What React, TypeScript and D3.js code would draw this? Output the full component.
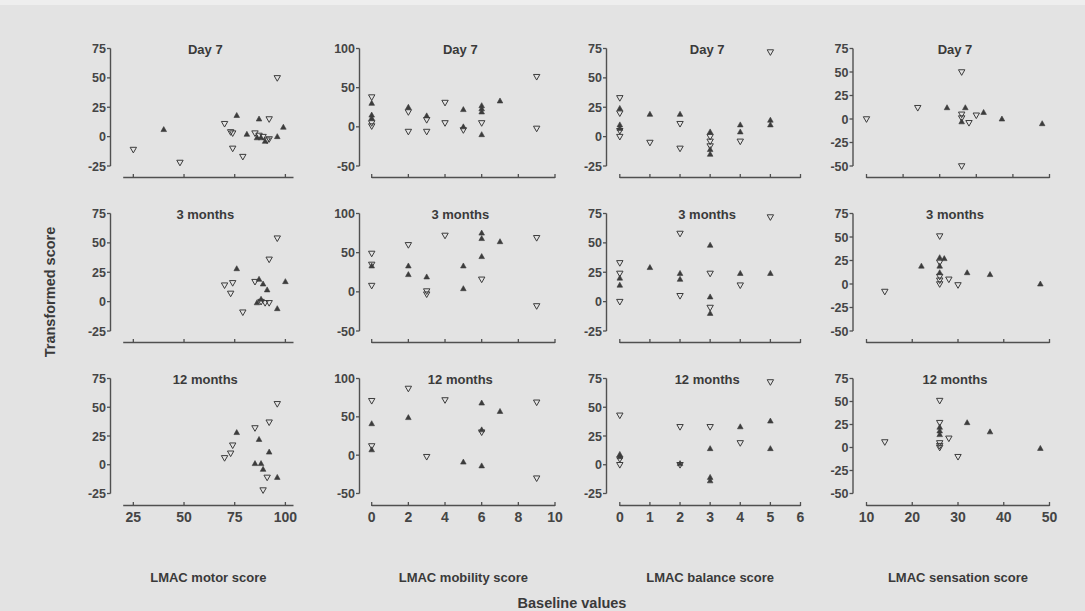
import React from "react";
import * as d3 from "d3";

// ---- Data: [baseline value, transformed score] ----
// filled up-triangles (▲) and open down-triangles (▽)
const motorDay7Up = [[40,6],[76,18],[81,2],[87,15],[86,-1],[88,-1],[90,-4],[96,0],[99,8]];
const motorDay7Down = [[25,-11],[48,-22],[70,11],[73,4],[74,3],[74,-10],[79,-17],[85,3],[87,1],[89,0],[91,-3],[92,-2],[92,15],[96,50]];
const motor3mUp = [[76,28],[87,19],[89,15],[91,10],[86,-1],[88,2],[96,-6],[100,17]];
const motor3mDown = [[70,14],[74,16],[73,7],[79,-9],[85,17],[88,0],[90,-1],[92,-1],[92,36],[96,54]];
const motor12mUp = [[76,28],[87,22],[85,1],[88,1],[89,-4],[92,11],[96,-11]];
const motor12mDown = [[70,6],[73,10],[74,17],[85,32],[89,-22],[91,-11],[92,37],[96,53]];

const mobilityDay7Up = [[0,30],[0,15],[0,11],[2,25],[3,14],[5,22],[5,0],[6,27],[6,23],[6,19],[6,-10],[7,33]];
const mobilityDay7Down = [[0,38],[0,5],[0,1],[2,19],[2,-6],[3,9],[3,-6],[4,31],[4,5],[5,-4],[6,5],[9,64],[9,-2]];
const mobility3mUp = [[0,33],[2,33],[2,22],[3,19],[5,33],[5,4],[6,75],[6,68],[6,45],[7,64]];
const mobility3mDown = [[0,49],[0,35],[0,8],[2,60],[3,1],[3,-3],[4,72],[6,16],[9,69],[9,-18]];
const mobility12mUp = [[0,41],[0,7],[2,49],[5,-9],[6,68],[6,33],[6,-14],[7,57]];
const mobility12mDown = [[0,71],[0,12],[2,87],[3,-2],[4,72],[6,30],[9,69],[9,-30]];

const balanceDay7Up = [[0,24],[0,10],[0,7],[1,19],[2,19],[3,4],[3,-11],[3,-15],[4,10],[4,4],[5,14],[5,10]];
const balanceDay7Down = [[0,33],[0,20],[0,5],[0,0],[1,-5],[2,11],[2,-10],[3,0],[3,-4],[3,-8],[4,-4],[5,72]];
const balance3mUp = [[0,20],[0,14],[1,29],[2,24],[2,19],[3,48],[3,4],[3,-10],[4,24],[5,24]];
const balance3mDown = [[0,33],[0,24],[0,0],[2,58],[2,5],[3,24],[3,-5],[4,14],[5,72]];
const balance12mUp = [[0,9],[0,7],[2,1],[3,14],[3,-11],[3,-14],[4,33],[5,38],[5,14]];
const balance12mDown = [[0,43],[0,5],[0,0],[2,33],[2,0],[3,33],[4,19],[5,72]];

const sensationDay7Up = [[22,12],[27,12],[26,-3],[32,7],[37,0],[48,-5]];
const sensationDay7Down = [[0,0],[14,12],[26,50],[26,5],[26,1],[26,-50],[28,-4],[30,4]];
const sensation3mUp = [[22,19],[26,28],[26,19],[26,12],[27,27],[32,12],[37,10],[48,0]];
const sensation3mDown = [[14,-8],[26,51],[26,23],[26,8],[26,4],[26,0],[28,5],[30,-1]];
const sensation12mUp = [[26,22],[26,18],[26,14],[32,27],[37,17],[48,-1]];
const sensation12mDown = [[14,6],[26,51],[26,27],[26,5],[26,2],[26,0],[28,10],[30,-10]];

const rowTitles = ["Day 7", "3 months", "12 months"];
const xAxisTitles = ["LMAC motor score", "LMAC mobility score", "LMAC balance score", "LMAC sensation score"];
const motorTicks = [25, 50, 75, 100];
const mobilityTicks = [0, 2, 4, 6, 8, 10];
const balanceTicks = [0, 1, 2, 3, 4, 5, 6];
const sensationTicks = [10, 20, 30, 40, 50];
const sensationDay7Ticks = [0, 10, 20, 30, 40, 50];
const yTicksA = [75, 50, 25, 0, -25];
const yTicksMob = [100, 50, 0, -50];
const yTicksSens = [75, 50, 25, 0, -25, -50];

const dataUp = [
  [motorDay7Up, mobilityDay7Up, balanceDay7Up, sensationDay7Up],
  [motor3mUp, mobility3mUp, balance3mUp, sensation3mUp],
  [motor12mUp, mobility12mUp, balance12mUp, sensation12mUp],
];
const dataDown = [
  [motorDay7Down, mobilityDay7Down, balanceDay7Down, sensationDay7Down],
  [motor3mDown, mobility3mDown, balance3mDown, sensation3mDown],
  [motor12mDown, mobility12mDown, balance12mDown, sensation12mDown],
];

// ---- Layout ----
const W = 1085, H = 611;
const cols = [
  { yAxisX: 110.5, xRange: [123.2, 293.5], xDomain: [20, 104], xTicks: motorTicks, yDomain: [-25, 75], yTicks: yTicksA },
  { yAxisX: 359.5, xRange: [371.7, 555], xDomain: [0, 10], xTicks: mobilityTicks, yDomain: [-50, 100], yTicks: yTicksMob },
  { yAxisX: 606.5, xRange: [619.8, 800.5], xDomain: [0, 6], xTicks: balanceTicks, yDomain: [-25, 75], yTicks: yTicksA },
  { yAxisX: 853, xRange: [866.5, 1049.5], xDomain: [10, 50], xTicks: sensationTicks, yDomain: [-50, 75], yTicks: yTicksSens },
];
const rows = [
  { top: 48.5, bottom: 166, axisY: 177.5 },
  { top: 213.5, bottom: 331, axisY: 342.5 },
  { top: 378.5, bottom: 493.5, axisY: 505.5 },
];

const INK = "#3c3c3c";
const FONT = "'Liberation Sans', Arial, Helvetica, sans-serif";

function upTri(x: number, y: number) {
  const w = 5.6, h = 5;
  return `M${x},${y - h * 0.6}L${x + w / 2},${y + h * 0.4}L${x - w / 2},${y + h * 0.4}Z`;
}
function downTri(x: number, y: number) {
  const w = 6.4, h = 5.6;
  return `M${x - w / 2},${y - h * 0.4}L${x + w / 2},${y - h * 0.4}L${x},${y + h * 0.6}Z`;
}

function Panel({ r, c }: { r: number; c: number }) {
  const col = cols[c];
  const row = rows[r];
  const isSensDay7 = c === 3 && r === 0;
  const xDomain = isSensDay7 ? [0, 50] : col.xDomain;
  const xTicks = isSensDay7 ? sensationDay7Ticks : col.xTicks;
  const x = d3.scaleLinear().domain(xDomain).range(col.xRange);
  const yTop = col.yTicks[0];
  const yBot = col.yTicks[col.yTicks.length - 1];
  const y = d3.scaleLinear().domain([yBot, yTop]).range([row.bottom, row.top]);
  const cx = (col.xRange[0] + col.xRange[1]) / 2 - 3;
  return (
    <g>
      {/* y axis */}
      <line x1={col.yAxisX} x2={col.yAxisX} y1={y(yTop)} y2={y(yBot)} stroke="#505050" strokeWidth={1.4} />
      {col.yTicks.map((t) => (
        <g key={"yt" + t}>
          <line x1={col.yAxisX - 3.5} x2={col.yAxisX} y1={y(t)} y2={y(t)} stroke="#505050" strokeWidth={1.3} />
          <text x={col.yAxisX - 4.5} y={y(t)} dy="0.36em" textAnchor="end" fontFamily={FONT} fontWeight="bold" fontSize={12.5} fill="#454545">
            {t}
          </text>
        </g>
      ))}
      {/* x axis */}
      <line x1={col.xRange[0]} x2={col.xRange[1]} y1={row.axisY} y2={row.axisY} stroke="#505050" strokeWidth={1.4} />
      {xTicks.map((t) => (
        <g key={"xt" + t}>
          <line x1={x(t)} x2={x(t)} y1={row.axisY - 3.5} y2={row.axisY + 0.5} stroke="#505050" strokeWidth={1.3} />
          {r === 2 && (
            <text x={x(t)} y={row.axisY + 11.5} dy="0.36em" textAnchor="middle" fontFamily={FONT} fontWeight="bold" fontSize={14} fill="#454545">
              {t}
            </text>
          )}
        </g>
      ))}
      {/* title */}
      <text x={cx} y={row.top + 5} textAnchor="middle" fontFamily={FONT} fontWeight="bold" fontSize={13} fill="#3a3a3a">
        {rowTitles[r]}
      </text>
      {/* marks */}
      {dataDown[r][c].map((p, i) => (
        <path key={"d" + i} d={downTri(x(p[0]), y(p[1]))} fill="none" stroke={INK} strokeWidth={1} />
      ))}
      {dataUp[r][c].map((p, i) => (
        <path key={"u" + i} d={upTri(x(p[0]), y(p[1]))} fill={INK} stroke={INK} strokeWidth={0.6} />
      ))}
    </g>
  );
}

export default function App() {
  return (
    <svg width={W} height={H} style={{ position: "absolute", left: 0, top: 0, display: "block" }}>
      <rect x={0} y={0} width={W} height={H} fill="#e3e3e3" />
      <rect x={0} y={0} width={W} height={5} fill="#eeeeee" />
      {rows.map((_, r) => cols.map((_, c) => <Panel key={r + "-" + c} r={r} c={c} />))}
      {xAxisTitles.map((t, c) => (
        <text key={t} x={(cols[c].xRange[0] + cols[c].xRange[1]) / 2} y={582} textAnchor="middle" fontFamily={FONT} fontWeight="bold" fontSize={13} fill="#3a3a3a">
          {t}
        </text>
      ))}
      <text x={572} y={608} textAnchor="middle" fontFamily={FONT} fontWeight="bold" fontSize={14.5} fill="#3a3a3a">
        Baseline values
      </text>
      <text transform="translate(55,292) rotate(-90)" textAnchor="middle" fontFamily={FONT} fontWeight="bold" fontSize={14.5} fill="#3a3a3a">
        Transformed score
      </text>
    </svg>
  );
}
